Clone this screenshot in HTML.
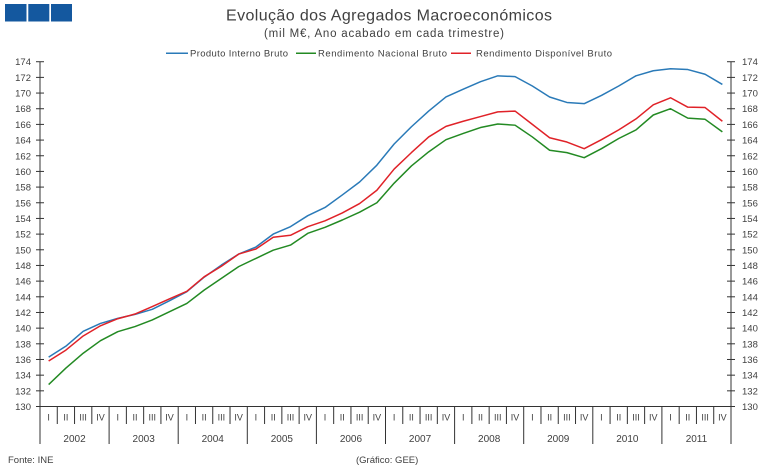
<!DOCTYPE html>
<html>
<head>
<meta charset="utf-8">
<style>
html,body{margin:0;padding:0;background:#fff;}
svg{display:block;}
text{font-family:"Liberation Sans",Arial,sans-serif;fill:#404040;}
</style>
</head>
<body>
<svg width="773" height="471" viewBox="0 0 773 471" xmlns="http://www.w3.org/2000/svg">
<rect width="773" height="471" fill="#fff"/>
<!-- logo -->
<rect x="5" y="4" width="21.5" height="17.5" fill="#14589f"/>
<rect x="28.3" y="4" width="21" height="17.5" fill="#14589f"/>
<rect x="51" y="4" width="21" height="17.5" fill="#14589f"/>

<!-- titles -->
<text x="226" y="20.5" font-size="16" textLength="326" lengthAdjust="spacing" fill="#333">Evolução dos Agregados Macroeconómicos</text>
<text x="264" y="37" font-size="11.5" textLength="240" lengthAdjust="spacing" fill="#333">(mil M€, Ano acabado em cada trimestre)</text>

<!-- legend -->
<line x1="166" y1="53.3" x2="188" y2="53.3" stroke="#2a7ab8" stroke-width="1.5"/>
<text x="190" y="56.5" font-size="9.5" textLength="98" lengthAdjust="spacing">Produto Interno Bruto</text>
<line x1="296" y1="53.3" x2="316" y2="53.3" stroke="#238a23" stroke-width="1.5"/>
<text x="318" y="56.5" font-size="9.5" textLength="129" lengthAdjust="spacing">Rendimento Nacional Bruto</text>
<line x1="451" y1="53.3" x2="471" y2="53.3" stroke="#e02228" stroke-width="1.5"/>
<text x="476" y="56.5" font-size="9.5" textLength="136" lengthAdjust="spacing">Rendimento Disponível Bruto</text>

<!-- axes -->
<g stroke="#333" stroke-width="1" fill="none">
<line x1="40" y1="61.7" x2="40" y2="444"/>
<line x1="731" y1="61.7" x2="731" y2="444"/>
<line x1="40" y1="406.5" x2="731" y2="406.5"/>
</g>
<!-- y ticks -->
<g stroke="#333" stroke-width="1">
<line x1="36" x2="44" y1="406.5" y2="406.5"/><line x1="727" x2="735" y1="406.5" y2="406.5"/>
<line x1="36" x2="44" y1="390.83" y2="390.83"/><line x1="727" x2="735" y1="390.83" y2="390.83"/>
<line x1="36" x2="44" y1="375.16" y2="375.16"/><line x1="727" x2="735" y1="375.16" y2="375.16"/>
<line x1="36" x2="44" y1="359.48" y2="359.48"/><line x1="727" x2="735" y1="359.48" y2="359.48"/>
<line x1="36" x2="44" y1="343.81" y2="343.81"/><line x1="727" x2="735" y1="343.81" y2="343.81"/>
<line x1="36" x2="44" y1="328.14" y2="328.14"/><line x1="727" x2="735" y1="328.14" y2="328.14"/>
<line x1="36" x2="44" y1="312.47" y2="312.47"/><line x1="727" x2="735" y1="312.47" y2="312.47"/>
<line x1="36" x2="44" y1="296.8" y2="296.8"/><line x1="727" x2="735" y1="296.8" y2="296.8"/>
<line x1="36" x2="44" y1="281.12" y2="281.12"/><line x1="727" x2="735" y1="281.12" y2="281.12"/>
<line x1="36" x2="44" y1="265.45" y2="265.45"/><line x1="727" x2="735" y1="265.45" y2="265.45"/>
<line x1="36" x2="44" y1="249.78" y2="249.78"/><line x1="727" x2="735" y1="249.78" y2="249.78"/>
<line x1="36" x2="44" y1="234.11" y2="234.11"/><line x1="727" x2="735" y1="234.11" y2="234.11"/>
<line x1="36" x2="44" y1="218.44" y2="218.44"/><line x1="727" x2="735" y1="218.44" y2="218.44"/>
<line x1="36" x2="44" y1="202.76" y2="202.76"/><line x1="727" x2="735" y1="202.76" y2="202.76"/>
<line x1="36" x2="44" y1="187.09" y2="187.09"/><line x1="727" x2="735" y1="187.09" y2="187.09"/>
<line x1="36" x2="44" y1="171.42" y2="171.42"/><line x1="727" x2="735" y1="171.42" y2="171.42"/>
<line x1="36" x2="44" y1="155.75" y2="155.75"/><line x1="727" x2="735" y1="155.75" y2="155.75"/>
<line x1="36" x2="44" y1="140.08" y2="140.08"/><line x1="727" x2="735" y1="140.08" y2="140.08"/>
<line x1="36" x2="44" y1="124.4" y2="124.4"/><line x1="727" x2="735" y1="124.4" y2="124.4"/>
<line x1="36" x2="44" y1="108.73" y2="108.73"/><line x1="727" x2="735" y1="108.73" y2="108.73"/>
<line x1="36" x2="44" y1="93.06" y2="93.06"/><line x1="727" x2="735" y1="93.06" y2="93.06"/>
<line x1="36" x2="44" y1="77.39" y2="77.39"/><line x1="727" x2="735" y1="77.39" y2="77.39"/>
<line x1="36" x2="44" y1="61.72" y2="61.72"/><line x1="727" x2="735" y1="61.72" y2="61.72"/>
</g>
<!-- y labels left -->
<g font-size="9.5" text-anchor="end">
<text x="31" y="410">130</text><text x="31" y="394.3">132</text><text x="31" y="378.7">134</text>
<text x="31" y="363">136</text><text x="31" y="347.3">138</text><text x="31" y="331.6">140</text>
<text x="31" y="316">142</text><text x="31" y="300.3">144</text><text x="31" y="284.6">146</text>
<text x="31" y="269">148</text><text x="31" y="253.3">150</text><text x="31" y="237.6">152</text>
<text x="31" y="221.9">154</text><text x="31" y="206.3">156</text><text x="31" y="190.6">158</text>
<text x="31" y="174.9">160</text><text x="31" y="159.3">162</text><text x="31" y="143.6">164</text>
<text x="31" y="127.9">166</text><text x="31" y="112.2">168</text><text x="31" y="96.6">170</text>
<text x="31" y="80.9">172</text><text x="31" y="65.2">174</text>
</g>
<g font-size="9.5" text-anchor="start">
<text x="742" y="410">130</text><text x="742" y="394.3">132</text><text x="742" y="378.7">134</text>
<text x="742" y="363">136</text><text x="742" y="347.3">138</text><text x="742" y="331.6">140</text>
<text x="742" y="316">142</text><text x="742" y="300.3">144</text><text x="742" y="284.6">146</text>
<text x="742" y="269">148</text><text x="742" y="253.3">150</text><text x="742" y="237.6">152</text>
<text x="742" y="221.9">154</text><text x="742" y="206.3">156</text><text x="742" y="190.6">158</text>
<text x="742" y="174.9">160</text><text x="742" y="159.3">162</text><text x="742" y="143.6">164</text>
<text x="742" y="127.9">166</text><text x="742" y="112.2">168</text><text x="742" y="96.6">170</text>
<text x="742" y="80.9">172</text><text x="742" y="65.2">174</text>
</g>

<!-- x dividers -->
<g transform="translate(40,0) scale(17.275,1)" stroke="#333" stroke-width="1">
<path vector-effect="non-scaling-stroke" d="M1,406.5V424M2,406.5V424M3,406.5V424M5,406.5V424M6,406.5V424M7,406.5V424M9,406.5V424M10,406.5V424M11,406.5V424M13,406.5V424M14,406.5V424M15,406.5V424M17,406.5V424M18,406.5V424M19,406.5V424M21,406.5V424M22,406.5V424M23,406.5V424M25,406.5V424M26,406.5V424M27,406.5V424M29,406.5V424M30,406.5V424M31,406.5V424M33,406.5V424M34,406.5V424M35,406.5V424M37,406.5V424M38,406.5V424M39,406.5V424"/>
<path vector-effect="non-scaling-stroke" d="M4,406.5V444M8,406.5V444M12,406.5V444M16,406.5V444M20,406.5V444M24,406.5V444M28,406.5V444M32,406.5V444M36,406.5V444"/>
</g>

<!-- quarter labels -->
<g font-size="9" text-anchor="middle">
<text x="48.64" y="420.5">I</text><text x="65.91" y="420.5">II</text><text x="83.19" y="420.5">III</text><text x="100.46" y="420.5">IV</text>
<text x="117.74" y="420.5">I</text><text x="135.01" y="420.5">II</text><text x="152.29" y="420.5">III</text><text x="169.56" y="420.5">IV</text>
<text x="186.84" y="420.5">I</text><text x="204.11" y="420.5">II</text><text x="221.39" y="420.5">III</text><text x="238.66" y="420.5">IV</text>
<text x="255.94" y="420.5">I</text><text x="273.21" y="420.5">II</text><text x="290.49" y="420.5">III</text><text x="307.76" y="420.5">IV</text>
<text x="325.04" y="420.5">I</text><text x="342.31" y="420.5">II</text><text x="359.59" y="420.5">III</text><text x="376.86" y="420.5">IV</text>
<text x="394.14" y="420.5">I</text><text x="411.41" y="420.5">II</text><text x="428.69" y="420.5">III</text><text x="445.96" y="420.5">IV</text>
<text x="463.24" y="420.5">I</text><text x="480.51" y="420.5">II</text><text x="497.79" y="420.5">III</text><text x="515.06" y="420.5">IV</text>
<text x="532.34" y="420.5">I</text><text x="549.61" y="420.5">II</text><text x="566.89" y="420.5">III</text><text x="584.16" y="420.5">IV</text>
<text x="601.44" y="420.5">I</text><text x="618.71" y="420.5">II</text><text x="635.99" y="420.5">III</text><text x="653.26" y="420.5">IV</text>
<text x="670.54" y="420.5">I</text><text x="687.81" y="420.5">II</text><text x="705.09" y="420.5">III</text><text x="722.36" y="420.5">IV</text>
</g>
<!-- year labels -->
<g font-size="10" text-anchor="middle">
<text x="74.55" y="442">2002</text><text x="143.65" y="442">2003</text><text x="212.75" y="442">2004</text>
<text x="281.85" y="442">2005</text><text x="350.95" y="442">2006</text><text x="420.05" y="442">2007</text>
<text x="489.15" y="442">2008</text><text x="558.25" y="442">2009</text><text x="627.35" y="442">2010</text>
<text x="696.45" y="442">2011</text>
</g>

<!-- footer -->
<text x="8" y="463" font-size="9.5">Fonte:  INE</text>
<text x="356" y="463" font-size="9.5">(Gráfico:  GEE)</text>

<!-- series -->
<g transform="translate(48.64,1425.18) scale(17.275,-7.836)" fill="none" stroke-width="1.5" stroke-linejoin="round">
<polyline vector-effect="non-scaling-stroke" stroke="#238a23" points="0,132.8 1,134.9 2,136.8 3,138.4 4,139.55 5,140.2 6,141.05 7,142.1 8,143.15 9,144.85 10,146.35 11,147.85 12,148.9 13,149.95 14,150.6 15,152.1 16,152.87 17,153.8 18,154.8 19,156.0 20,158.5 21,160.7 22,162.5 23,164.05 24,164.85 25,165.6 26,166.05 27,165.9 28,164.4 29,162.7 30,162.4 31,161.75 32,162.9 33,164.2 34,165.3 35,167.2 36,168.0 37,166.8 38,166.65 39,165.05"/>
<polyline vector-effect="non-scaling-stroke" stroke="#2a7ab8" points="0,136.3 1,137.7 2,139.6 3,140.6 4,141.25 5,141.75 6,142.4 7,143.5 8,144.65 9,146.5 10,148.05 11,149.45 12,150.35 13,152.0 14,152.95 15,154.35 16,155.4 17,157.0 18,158.65 19,160.8 20,163.5 21,165.7 22,167.7 23,169.5 24,170.5 25,171.45 26,172.2 27,172.1 28,170.9 29,169.5 30,168.8 31,168.65 32,169.7 33,170.9 34,172.2 35,172.85 36,173.1 37,173.0 38,172.4 39,171.1"/>
<polyline vector-effect="non-scaling-stroke" stroke="#e02228" points="0,135.8 1,137.2 2,139.0 3,140.3 4,141.2 5,141.8 6,142.75 7,143.75 8,144.7 9,146.55 10,147.9 11,149.45 12,150.1 13,151.6 14,151.85 15,152.95 16,153.7 17,154.7 18,155.9 19,157.6 20,160.3 21,162.4 22,164.4 23,165.75 24,166.4 25,167.0 26,167.6 27,167.7 28,166.0 29,164.3 30,163.75 31,162.9 32,164.05 33,165.3 34,166.7 35,168.5 36,169.4 37,168.2 38,168.15 39,166.4"/>
</g>
</svg>
</body>
</html>
